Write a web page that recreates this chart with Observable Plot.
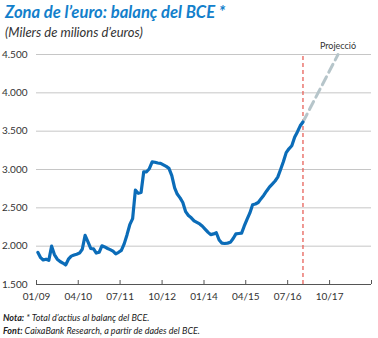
<!DOCTYPE html>
<html><head><meta charset="utf-8">
<script src="https://cdn.jsdelivr.net/npm/d3@7"></script>
<script src="https://cdn.jsdelivr.net/npm/@observablehq/plot@0.6"></script>
<style>
html,body{margin:0;padding:0;background:#fff;}
#wrap{position:relative;width:378px;height:338px;overflow:hidden;font-family:Lato,"Noto Sans",sans-serif;}
#title{position:absolute;left:5px;top:2px;font-size:16.6px;line-height:20px;font-weight:bold;font-style:italic;color:#1380cb;white-space:nowrap;}
#subtitle{position:absolute;left:5px;top:24px;font-size:13px;line-height:16px;font-style:italic;color:#333;white-space:nowrap;}
#chart{position:absolute;left:0;top:42px;}
#foot{position:absolute;left:3px;top:311px;font-size:9px;line-height:13px;font-style:italic;color:#222;white-space:nowrap;}
#foot b{font-weight:bold;}
</style></head><body>
<div id="wrap">
  <div id="title">Zona de l’euro: balanç del BCE *</div>
  <div id="subtitle">(Milers de milions d’euros)</div>
  <div id="chart"></div>
  <div id="foot"><div><b>Nota:</b> * Total d’actius al balanç del BCE.</div><div><b>Font:</b> CaixaBank Research, a partir de dades del BCE.</div></div>
</div>
<script>
// Monthly ECB balance sheet (billions €), Jan 2009 – Dec 2016
const startYear = 2009;
const balance2009 = [1920, 1850, 1820, 1830, 1815, 2000, 1890, 1830, 1800, 1780, 1755, 1830];
const balance2010 = [1870, 1885, 1895, 1910, 1960, 2140, 2060, 1970, 1965, 1910, 1920, 2005];
const balance2011 = [1990, 1970, 1955, 1935, 1900, 1920, 1945, 2030, 2150, 2280, 2360, 2730];
const balance2012 = [2690, 2700, 2970, 2970, 3010, 3100, 3095, 3085, 3080, 3060, 3040, 3015];
const balance2013 = [2920, 2760, 2680, 2630, 2570, 2450, 2400, 2370, 2330, 2310, 2290, 2260];
const balance2014 = [2220, 2180, 2150, 2160, 2175, 2080, 2040, 2035, 2040, 2050, 2100, 2160];
const balance2015 = [2165, 2170, 2260, 2350, 2430, 2540, 2550, 2570, 2620, 2665, 2720, 2770];
const balance2016 = [2810, 2850, 2900, 3000, 3100, 3220, 3270, 3310, 3420, 3490, 3570, 3620];

// Projection
const projectionDates = ["2016-12-15", "2018-01-01"];
const projectionValues = [3620, 4500];
const projectionLabel = {text: "Projecció", date: "2018-01-01", value: 4610};

// Axes
const yTicks = [1500, 2000, 2500, 3000, 3500, 4000, 4500];
const gridValues = [2000, 2500, 3000, 3500, 4000, 4500];
const xTickLabels = ["01/09", "04/10", "07/11", "10/12", "01/14", "04/15", "07/16", "10/17", ""];
const xDomain = ["2009-01-01", "2019-01-01"];

const allValues = [balance2009, balance2010, balance2011, balance2012, balance2013, balance2014, balance2015, balance2016].flat();
const series = allValues.map((v, i) => ({date: new Date(Date.UTC(startYear, i, 15)), value: v}));
const projection = projectionDates.map((d, i) => ({date: new Date(d), value: projectionValues[i]}));
const xTicks = xTickLabels.map((_, i) => new Date(Date.UTC(startYear, i * 15, 1)));
const labelOf = new Map(xTicks.map((d, i) => [+d, xTickLabels[i]]));
const fmt = d => d3.format(",")(d).replace(",", ".");

const chart = Plot.plot({
  width: 378,
  height: 266,
  marginLeft: 36,
  marginRight: 7,
  marginTop: 12,
  marginBottom: 24,
  x: {type: "utc", domain: xDomain.map(d => new Date(d))},
  y: {domain: [1500, 4500]},
  style: {fontFamily: "Lato, 'Noto Sans', sans-serif", fontSize: "10px", color: "#333", background: "transparent", overflow: "visible"},
  marks: [
    Plot.ruleY(gridValues, {stroke: "#c6c6c6", strokeWidth: 1}),
    Plot.ruleY([1500], {stroke: "#555", strokeWidth: 1}),
    Plot.axisY({ticks: yTicks, tickSize: 0, tickPadding: 9, tickFormat: fmt, label: null}),
    Plot.axisX({ticks: xTicks, tickSize: -4, tickPadding: 12, tickFormat: d => labelOf.get(+d), label: null, stroke: "#555"}),
    Plot.ruleX([projection[0].date], {y1: 1500, y2: 4500, stroke: "#e8625a", strokeWidth: 1.3, strokeDasharray: "4,3"}),
    Plot.line(projection, {x: "date", y: "value", stroke: "#b6c5ca", strokeWidth: 3, strokeDasharray: "9,5"}),
    Plot.line(series, {x: "date", y: "value", stroke: "#0b6cb8", strokeWidth: 3.2, strokeLinejoin: "round"}),
    Plot.text([projectionLabel], {x: d => new Date(d.date), y: "value", text: "text", fontSize: 9, fill: "#333"})
  ]
});
document.getElementById("chart").append(chart);
</script>
</body></html>
